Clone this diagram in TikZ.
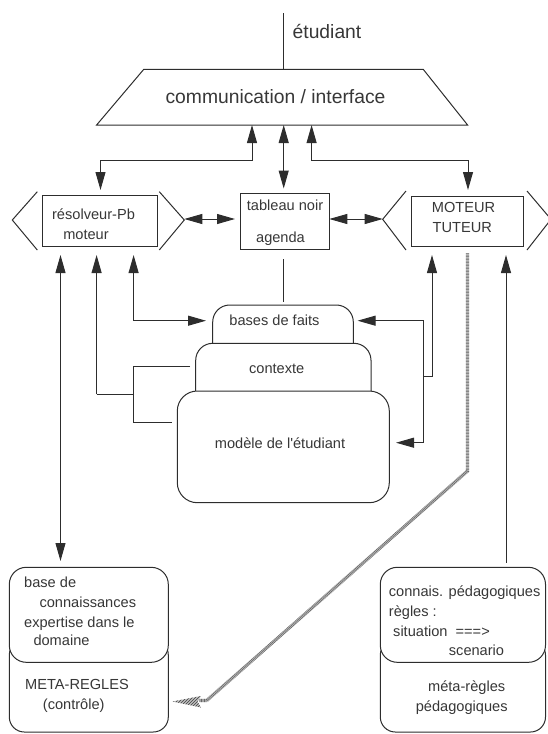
\documentclass[tikz,border=0pt]{standalone}
\usepackage{fontspec}
\setmainfont{Liberation Sans}
\usetikzlibrary{arrows.meta,patterns}
\definecolor{ln}{RGB}{45,45,45}
\definecolor{tx}{RGB}{55,55,55}
\begin{document}
\begin{tikzpicture}[x=1pt,y=-1pt,
  lnst/.style={draw=ln, line width=1pt},
  arr/.style={lnst, -{Triangle[length=18pt,width=10pt]}},
  darr/.style={lnst, {Triangle[length=18pt,width=10pt]}-{Triangle[length=18pt,width=10pt]}},
  lbl/.style={text=tx, font=\fontsize{14.6}{17}\selectfont, inner sep=0pt, text height=10.5pt, text depth=3pt},
  big/.style={text=tx, font=\fontsize{19.3}{22}\selectfont, inner sep=0pt, text height=13.9pt, text depth=4pt},
  rbox/.style={lnst, inner sep=0pt, outer sep=0pt},
  rrbox/.style={lnst, fill=white, inner sep=0pt, outer sep=0pt, rounded corners=#1},
  hatchbg/.style={draw=gray!45, line width=3.2pt},
  hatchfg/.style={draw=black!60, line width=3.2pt, dash pattern=on 0.6pt off 0.9pt}
]
\useasboundingbox (0,0) rectangle (547,734);

% --- student and interface ---
\coordinate (etu) at (283,13);
\coordinate (trapT) at (283,69.3);
\draw[lnst] (etu) -- (trapT);
\node[big] (etutxt) at (327,34) {étudiant};
\draw[lnst, line join=miter] (143.8,69.3) -- (423.2,69.3) -- (467.6,125) -- (96.6,125) -- cycle;
\node[big] (comm) at (275.5,98.5) {communication / interface};

\coordinate (tA) at (252,125);
\coordinate (tB) at (283.7,125);
\coordinate (tC) at (311.6,125);
\coordinate (rA) at (100.5,190);
\coordinate (tabTop) at (283.7,188.5);
\coordinate (motA) at (468,190);
\draw[darr] (tA) -- ++(0,35) -| (rA);
\draw[darr] (tB) -- (tabTop);
\draw[darr] (tC) -- ++(0,35) -| (motA);

% --- résolveur ---
\node[rbox, draw, minimum width=115pt, minimum height=51pt] (resol) at (99.5,221) {};
\draw[lnst] (37.3,191.7) -- (12.3,220) -- (37.3,250);
\draw[lnst] (159.3,191.7) -- (184.3,220) -- (159.3,250);
\node[lbl] (resT1) at (93.5,216) {résolveur-Pb};
\node[lbl] (resT2) at (86,236) {moteur};

% --- tableau noir ---
\node[rbox, draw, minimum width=88.6pt, minimum height=56pt] (tab) at (285,221.5) {};
\node[lbl] (tabT1) at (285,207) {tableau noir};
\node[lbl] (tabT2) at (280.5,239) {agenda};

% --- moteur tuteur ---
\node[rbox, draw, minimum width=111.3pt, minimum height=50.7pt] (mot) at (467.35,221.35) {};
\draw[lnst] (406,191) -- (382.7,219.3) -- (406,250);
\draw[lnst] (527,191) -- (551,219.3) -- (527,250);
\node[lbl] (motT1) at (463.5,209) {MOTEUR};
\node[lbl] (motT2) at (462.3,229) {TUTEUR};

\coordinate (rR) at (184.3,219);
\coordinate (tabL) at (235,219);
\coordinate (tabR) at (329.3,219);
\coordinate (mL) at (382.7,219);
\draw[darr] (rR) -- (tabL);
\draw[darr] (tabR) -- (mL);

% --- central stack ---
\node[rrbox=17pt, draw, minimum width=140.6pt, minimum height=55pt] (bf) at (283,332.5) {};
\node[rrbox=17pt, draw, minimum width=175.3pt, minimum height=66.7pt] (ctx) at (283.35,376.65) {};
\node[rrbox=20pt, draw, minimum width=212pt, minimum height=111.7pt] (mod) at (283.3,446.85) {};
\node[lbl] (bfT) at (274.5,321.7) {bases de faits};
\node[lbl] (ctxT) at (276.7,370) {contexte};
\node[lbl] (modT) at (280,444.3) {modèle de l\textquotesingle étudiant};

\coordinate (tabB) at (283,259.3);
\coordinate (bfTop) at (283,302);
\draw[lnst] (tabB) -- (bfTop);

% --- left connectors ---
\coordinate (a1t) at (60.5,255);
\coordinate (a1b) at (60.5,561);
\draw[darr] (a1t) -- (a1b);
\coordinate (a2t) at (96.6,255);
\coordinate (a2b) at (96.6,394.3);
\coordinate (a2j) at (133.6,394.3);
\draw[arr] (a2b) -- (a2t);
\draw[lnst] (a2b) -- (a2j);
\coordinate (ctxL) at (190,366.7);
\coordinate (modL) at (171.7,422.7);
\draw[lnst] (ctxL) -- (133.6,366.7) -- (133.6,422.7) -- (modL);
\coordinate (a3t) at (133.6,255);
\coordinate (bfL) at (206,320.7);
\draw[darr] (a3t) |- (bfL);

% --- right connectors ---
\coordinate (a4t) at (432,255);
\coordinate (a4b) at (432,376.7);
\coordinate (a4j) at (423,376.7);
\draw[arr] (a4b) -- (a4t);
\draw[lnst] (a4j) -- (a4b);
\coordinate (bfR) at (357.6,320.7);
\coordinate (modR) at (396,442.7);
\draw[darr] (bfR) -- (423,320.7) -- (423,442.7) -- (modR);
\coordinate (a5t) at (506,255);
\coordinate (a5b) at (506,562.7);
\draw[arr] (a5b) -- (a5t);

% --- bottom left ---
\node[rrbox=15pt, draw, minimum width=159pt, minimum height=92pt] (kbL) at (88.8,686) {};
\node[rrbox=17pt, draw, minimum width=159pt, minimum height=95pt] (kbU) at (88.8,614.8) {};
\node[lbl, anchor=west] (kb1) at (24,583.3) {base de};
\node[lbl, anchor=west] (kb2) at (39.3,603.3) {connaissances};
\node[lbl, anchor=west] (kb3) at (24,623.3) {expertise dans le};
\node[lbl, anchor=west] (kb4) at (33.3,641.3) {domaine};
\node[lbl, anchor=west] (kb5) at (25,685.7) {META-REGLES};
\node[lbl, anchor=west] (kb6) at (42.7,705.7) {(contrôle)};

% --- bottom right ---
\node[rrbox=15pt, draw, minimum width=165.2pt, minimum height=92pt] (pedL) at (462.9,686) {};
\node[rrbox=17pt, draw, minimum width=165.2pt, minimum height=95pt] (pedU) at (462.9,614.8) {};
\node[lbl, anchor=west] (pd1) at (388.7,592.3) {connais. pédagogiques};
\node[lbl, anchor=west] (pd2) at (388.7,612.3) {règles :};
\node[lbl, anchor=west] (pd3) at (393,632.3) {situation\ \ ===>};
\node[lbl, anchor=west] (pd4) at (448.7,651.3) {scenario};
\node[lbl] (pd5) at (466.7,687.3) {méta-règles};
\node[lbl] (pd6) at (461.7,707.3) {pédagogiques};

% --- hatched connector ---
\coordinate (h0) at (467.5,253.3);
\coordinate (h1) at (467.5,471);
\coordinate (h2) at (206.7,700.5);
\coordinate (h3) at (199,700.5);
\draw[hatchbg] (h0) -- (h1) -- (h2) -- (h3);
\draw[hatchfg] (h0) -- (h1) -- (h2) -- (h3);
\coordinate (htip) at (172.5,701.5);
\fill[gray!50] (201,696) -- (htip) -- (201,707.5) -- (197.5,701.5) -- cycle;
\fill[pattern=north east lines, pattern color=black!75] (201,696) -- (htip) -- (201,707.5) -- (197.5,701.5) -- cycle;
\end{tikzpicture}
\end{document}
